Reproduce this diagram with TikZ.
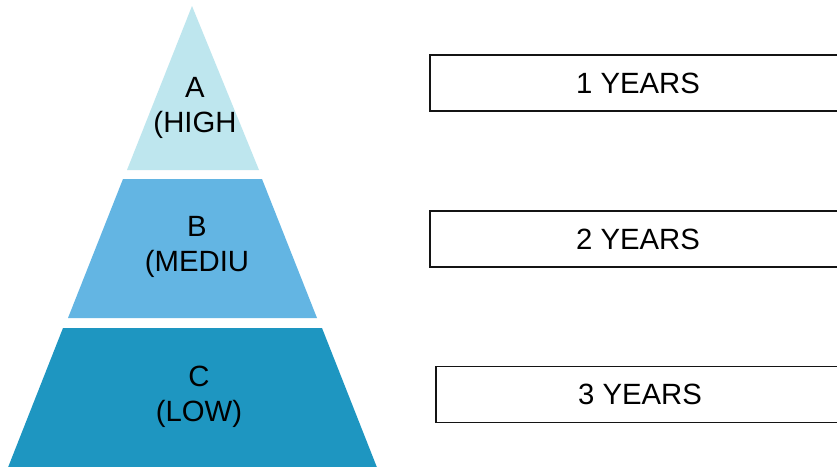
\documentclass[tikz,border=0pt]{standalone}
\usepackage{fontspec}
\setmainfont{Liberation Sans}
\definecolor{tierA}{RGB}{190,230,238}
\definecolor{tierB}{RGB}{99,181,227}
\definecolor{tierC}{RGB}{30,150,193}
\definecolor{boxline}{RGB}{20,20,20}
\tikzset{
  tierlabel/.style={inner sep=0pt, anchor=north, align=center, text=black,
    font=\fontsize{29.3}{35}\selectfont},
  yearbox/.style={draw=boxline, line width=1.5pt, fill=white, inner sep=0pt,
    minimum width=410pt, minimum height=56pt,
    font=\fontsize{29.3}{34}\selectfont}
}
\begin{document}
\begin{tikzpicture}[x=1pt,y=-1pt]
\useasboundingbox (0,0) rectangle (837,466);
\fill[white] (0,0) rectangle (837,466);
% pyramid tiers
\fill[tierA] (192,6) -- (259,170) -- (127,170) -- cycle;
\fill[tierB] (123,179) -- (262,179) -- (317,318) -- (68,318) -- cycle;
\fill[tierC] (63,328) -- (322,328) -- (378,470) -- (7,470) -- cycle;
% tier labels
\node[tierlabel] (la) at (195,77.5) {A\\(HIGH};
\node[tierlabel] (lb) at (197,216.5) {B\\(MEDIU};
\node[tierlabel] (lc) at (199,365.5) {C\\(LOW)};
% year boxes
\node[yearbox, minimum width=416pt] (y1) at (638,83) {1 YEARS};
\node[yearbox, minimum width=416pt] (y2) at (638,239) {2 YEARS};
\node[yearbox, minimum width=408pt] (y3) at (640,394.5) {3 YEARS};
\end{tikzpicture}
\end{document}
